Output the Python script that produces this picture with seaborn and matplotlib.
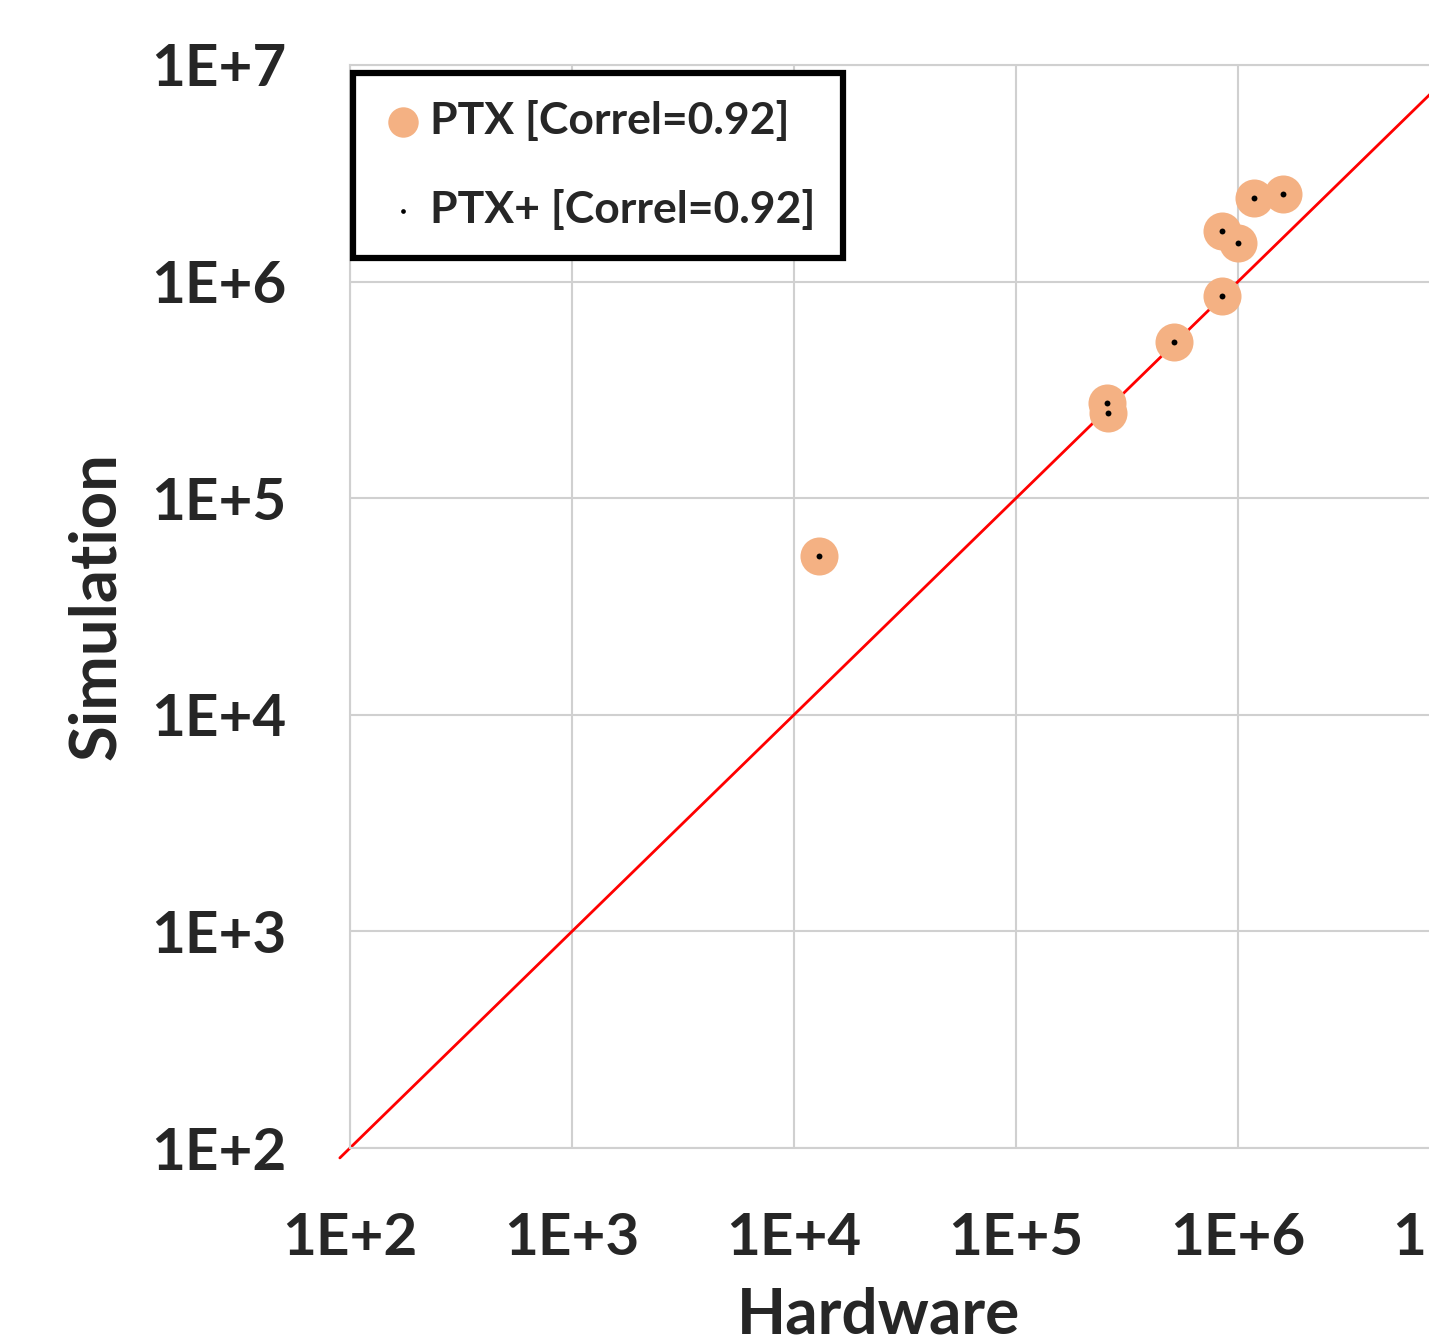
import pandas as pd
import seaborn as sns
import matplotlib.pyplot as plt

# values (log-log)
hardware = [12960, 257000, 259700, 515000, 847000, 847000, 1000000,
            1181000, 1595000]
simulation = [54100, 275000, 247000, 526000, 858000, 1712000, 1508000,
              2432000, 2538000]
series_names = ['PTX [Correl=0.92]', 'PTX+ [Correl=0.92]']
tick_values = [1e2, 1e3, 1e4, 1e5, 1e6, 1e7]
tick_labels = ['1E+2', '1E+3', '1E+4', '1E+5', '1E+6', '1E+7']
diagonal = [90, 1e7]

sns.set_style('white')
plt.rcParams['font.family'] = ['Lato', 'DejaVu Sans']

data = pd.DataFrame({'Hardware': hardware, 'Simulation': simulation})

fig = plt.figure(figsize=(14.29, 13.41), dpi=100)
ax = fig.add_axes([350 / 1429, 193 / 1341, 1110 / 1429, 1083 / 1341])
ax.set_xscale('log')
ax.set_yscale('log')

sns.scatterplot(data=data, x='Hardware', y='Simulation', ax=ax,
                color='#F4B183', s=750, linewidth=0, label=series_names[0],
                zorder=3)
sns.scatterplot(data=data, x='Hardware', y='Simulation', ax=ax,
                color='black', s=18, linewidth=0, label=series_names[1],
                zorder=4)
ax.plot(diagonal, diagonal, color='red', linewidth=2, clip_on=False,
        zorder=2)

ax.set_xlim(1e2, 1e7)
ax.set_ylim(1e2, 1e7)
ax.set_xticks(tick_values)
ax.set_xticklabels(tick_labels)
ax.set_yticks(tick_values)
ax.set_yticklabels(tick_labels)
ax.minorticks_off()
ax.tick_params(length=0, labelsize=42, pad=46)
for lab in ax.get_xticklabels() + ax.get_yticklabels():
    lab.set_fontweight('bold')

ax.grid(True, color='#d0d0d0', linewidth=1.5, zorder=0)
ax.set_axisbelow(True)
for side in ax.spines:
    ax.spines[side].set_color('#d0d0d0')
    ax.spines[side].set_linewidth(1.5)

ax.set_xlabel('Hardware', fontsize=46, fontweight='bold')
ax.set_ylabel('Simulation', fontsize=47, fontweight='bold')
ax.xaxis.set_label_coords(0.476, -0.128)
ax.yaxis.label.set_va('center')
ax.yaxis.set_label_coords(-0.228, 0.5)

leg = ax.legend(loc='upper left', bbox_to_anchor=(0.003, 0.993),
                borderaxespad=0, prop={'size': 32, 'weight': 'bold'},
                frameon=True, fancybox=False, markerscale=0.8,
                handletextpad=0.1, labelspacing=1.08, borderpad=0.62,
                handlelength=1.0)
leg.get_frame().set_edgecolor('black')
leg.get_frame().set_linewidth(4.5)
leg.get_frame().set_alpha(1)

fig.savefig('out.png', dpi=100)
